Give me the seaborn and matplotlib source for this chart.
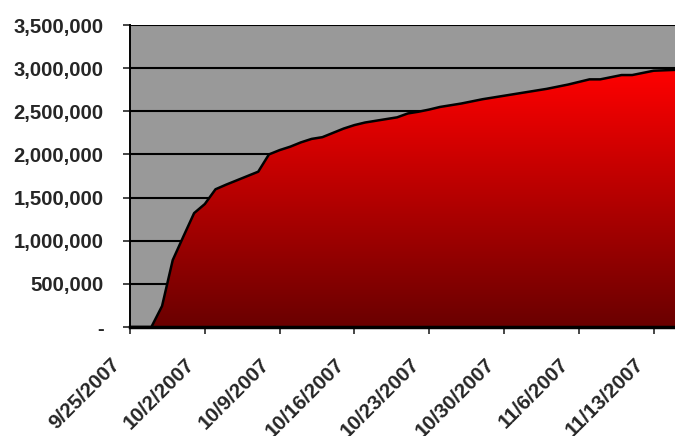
import numpy as np
import pandas as pd
import matplotlib
matplotlib.use("Agg")
import matplotlib.pyplot as plt
import matplotlib.dates as mdates
from matplotlib.transforms import ScaledTranslation
from matplotlib.colors import LinearSegmentedColormap
from matplotlib.patches import PathPatch
import seaborn as sns

# ---- data ----
start_date = "2007-09-25"
end_date = "2007-11-15"
cumulative = [
    0, 0, 0, 243000, 776000, 1050000, 1320000, 1425000, 1596000, 1650000,
    1700000, 1750000, 1800000, 2000000, 2050000, 2090000, 2140000, 2180000,
    2200000, 2250000, 2300000, 2340000, 2370000, 2390000, 2410000, 2430000,
    2475000, 2495000, 2520000, 2550000, 2570000, 2590000, 2615000, 2640000,
    2660000, 2680000, 2700000, 2720000, 2740000, 2760000, 2785000, 2810000,
    2840000, 2870000, 2870000, 2895000, 2920000, 2920000, 2945000, 2970000,
    2975000, 2980000,
]
y_ticks = [0, 500000, 1000000, 1500000, 2000000, 2500000, 3000000, 3500000]
tick_dates = ["2007-09-25", "2007-10-02", "2007-10-09", "2007-10-16",
              "2007-10-23", "2007-10-30", "2007-11-06", "2007-11-13"]

dates = pd.date_range(start_date, end_date, freq="D")
df = pd.DataFrame({"date": dates, "value": cumulative})

sns.set_style("white")
plt.rcParams["font.family"] = ["Liberation Sans", "DejaVu Sans"]

fig = plt.figure(figsize=(6.75, 4.36), dpi=100)
ax = fig.add_axes([130 / 675, 1 - 327 / 436, 545 / 675, 302 / 436])
ax.set_facecolor("#999999")

x0 = mdates.date2num(pd.Timestamp(start_date))
x1 = mdates.date2num(pd.Timestamp(end_date))

# gridlines
for yv in y_ticks[1:]:
    ax.axhline(yv, color="black", lw=1.5, zorder=1)

# gradient fill clipped to area
xs = mdates.date2num(df["date"])
poly = ax.fill_between(xs, df["value"], 0, color="none", zorder=2)
cmap = LinearSegmentedColormap.from_list("redgrad", ["#6a0000", "#ff0000"])
grad = np.linspace(0, 1, 256).reshape(-1, 1)
img = ax.imshow(grad, cmap=cmap, aspect="auto", origin="lower",
                extent=[x0, x1, 0, max(cumulative)], zorder=2,
                interpolation="bilinear")
clip = PathPatch(poly.get_paths()[0], transform=ax.transData,
                 facecolor="none", edgecolor="none")
ax.add_patch(clip)
img.set_clip_path(clip)

sns.lineplot(data=df, x="date", y="value", color="black", lw=1.8, ax=ax, zorder=3)
ax.set_xlim(x0, x1)
ax.set_ylim(0, 3500000)

# axes styling
for s in ["top", "right"]:
    ax.spines[s].set_visible(False)
for s in ["left", "bottom"]:
    ax.spines[s].set_color("black")
    ax.spines[s].set_linewidth(1.4)
    ax.spines[s].set_zorder(4)
ax.spines["bottom"].set_linewidth(2.5)

ax.set_yticks(y_ticks)
ax.set_yticklabels(["-" if v == 0 else f"{v:,}" for v in y_ticks],
                   fontsize=14.6, fontweight="bold")
ax.tick_params(axis="y", direction="out", length=5, width=1.2, pad=14, left=True)

tds = [pd.Timestamp(d) for d in tick_dates]
ax.set_xticks(mdates.date2num(tds))
ax.set_xticklabels([f"{d.month}/{d.day}/{d.year}" for d in tds],
                   fontsize=14.8, fontweight="bold", rotation=45,
                   ha="right", va="center", rotation_mode="anchor")
ax.tick_params(axis="x", direction="out", length=5, width=1.2, pad=20, bottom=True)
offset = ScaledTranslation(-13 / 100, 0, fig.dpi_scale_trans)
for lab in ax.get_xticklabels():
    lab.set_transform(lab.get_transform() + offset)

ax.set_xlabel("")
ax.set_ylabel("")

fig.savefig("out.png", dpi=100)
